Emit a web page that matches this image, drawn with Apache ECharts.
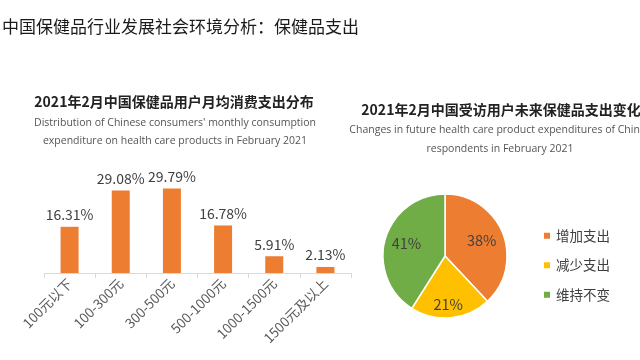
<!DOCTYPE html>
<html><head><meta charset="utf-8">
<script src="https://cdn.jsdelivr.net/npm/echarts@6/dist/echarts.min.js"></script>
<style>html,body{margin:0;padding:0;background:#fff;}#c{width:640px;height:360px;}</style>
</head><body><div id="c"></div>
<script>
const barCategories = ['100元以下','100-300元','300-500元','500-1000元','1000-1500元','1500元及以上'];
const barValues = [16.31, 29.08, 29.79, 16.78, 5.91, 2.13];
const pieNames = ['增加支出','减少支出','维持不变'];
const pieValues = [38, 21, 41];
const pieColors = ['#ED7D31','#FFC000','#70AD47'];
const pieLabelOffsets = [[5,-3],[0,15],[-6,-3]];

const FONT = '"Noto Sans CJK SC","Noto Sans",sans-serif';
const EN = '"Open Sans","Noto Sans",sans-serif';
const chart = echarts.init(document.getElementById('c'), null, {renderer:'canvas'});
chart.setOption({
  backgroundColor:'#fff',
  textStyle:{fontFamily:FONT},
  title:[
    {text:'中国保健品行业发展社会环境分析：保健品支出', left:2, top:18, padding:0,
     textStyle:{fontSize:17, fontWeight:'normal', color:'#1a1a1a', fontFamily:FONT}},
    {text:'2021年2月中国保健品用户月均消费支出分布', left:174, textAlign:'center', top:95, padding:0,
     textStyle:{fontSize:14, fontWeight:'bold', color:'#222', fontFamily:FONT}},
    {text:"Distribution of Chinese consumers' monthly consumption", left:175, textAlign:'center', top:118, padding:0,
     textStyle:{fontSize:10.5, fontWeight:'normal', color:'#555', fontFamily:EN}},
    {text:'expenditure on health care products in February 2021', left:175, textAlign:'center', top:136, padding:0,
     textStyle:{fontSize:10.5, fontWeight:'normal', color:'#555', fontFamily:EN}},
    {text:'2021年2月中国受访用户未来保健品支出变化', left:501, textAlign:'center', top:103, padding:0,
     textStyle:{fontSize:14, fontWeight:'bold', color:'#222', fontFamily:FONT}},
    {text:'Changes in future health care product expenditures of Chinese', left:503, textAlign:'center', top:125, padding:0,
     textStyle:{fontSize:10.5, fontWeight:'normal', color:'#555', fontFamily:EN}},
    {text:'respondents in February 2021', left:500, textAlign:'center', top:144, padding:0,
     textStyle:{fontSize:10.5, fontWeight:'normal', color:'#555', fontFamily:EN}}
  ],
  grid:{left:44, right:289, top:188, bottom:87, containLabel:false},
  xAxis:{type:'category', data:barCategories,
    axisLine:{lineStyle:{color:'#d9d9d9'}},
    axisTick:{show:true, length:5, lineStyle:{color:'#d9d9d9'}},
    axisLabel:{rotate:45, fontSize:13.5, color:'#595959', margin:8, interval:0, fontFamily:FONT}},
  yAxis:{type:'value', min:0, max:30, show:false, splitLine:{show:false}},
  legend:{data:pieNames, orient:'vertical', left:537, top:224, itemWidth:8, itemHeight:8, itemGap:16,
    icon:'rect', textStyle:{fontSize:13.5, color:'#404040', fontFamily:FONT}},
  series:[
    {type:'bar', data:barValues, barWidth:18, itemStyle:{color:'#ED7D31'},
     label:{show:true, position:'top', distance:5, formatter:'{c}%', fontSize:14, color:'#404040', fontFamily:FONT}},
    {type:'pie', center:[445,256], radius:[0,62], startAngle:90, clockwise:true,
     data:pieNames.map((n,i)=>({name:n, value:pieValues[i], itemStyle:{color:pieColors[i]},
        label:{offset:pieLabelOffsets[i]}})),
     itemStyle:{borderColor:'#fff', borderWidth:1.5},
     label:{show:true, position:'inside', formatter:'{c}%', fontSize:14.5, color:'#404040', fontFamily:FONT},
     labelLine:{show:false}, animation:false}
  ],
  animation:false
});
</script></body></html>
